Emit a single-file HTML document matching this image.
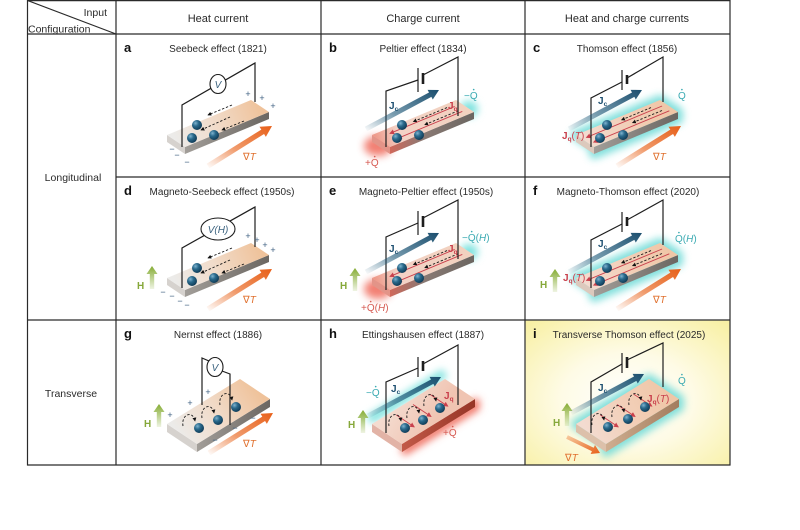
<!DOCTYPE html>
<html><head><meta charset="utf-8">
<style>
html,body{margin:0;padding:0;background:#fff;}
svg{display:block;}
text{font-family:"Liberation Sans",Arial,sans-serif;}
.tt{font-size:10px;fill:#2a2a2a;text-anchor:middle;}
.lt{font-size:13px;font-weight:bold;fill:#111;}
.hd{font-size:11px;fill:#2a2a2a;text-anchor:middle;}
.sg{font-size:9px;fill:#3d5f80;text-anchor:middle;}
.cy{fill:#3aaab2;font-size:10px;}
.rd{fill:#d65a52;font-size:10px;}
.jc{fill:#1d4f70;font-size:10px;font-weight:bold;}
.jq{fill:#c9404c;font-size:10px;font-weight:bold;}
.gt{fill:#e0702e;font-size:10px;}
.hl{fill:#86a83a;font-size:10px;font-weight:bold;}
.w{fill:none;stroke:#1e1e1e;stroke-width:1.2;}
.ds{fill:none;stroke:#1a1a1a;stroke-width:0.9;stroke-dasharray:2.4 1.8;}
.rl{fill:none;stroke:#c9404c;stroke-width:0.9;}
</style></head><body>
<svg width="800" height="530" viewBox="0 0 800 530" xmlns="http://www.w3.org/2000/svg">
<defs>
<linearGradient id="topA" gradientUnits="userSpaceOnUse" x1="60" y1="107" x2="145" y2="72">
<stop offset="0" stop-color="#ecebe9"/><stop offset="0.45" stop-color="#f1dccb"/><stop offset="1" stop-color="#efc29a"/></linearGradient>
<linearGradient id="topG" gradientUnits="userSpaceOnUse" x1="66" y1="118" x2="139" y2="66">
<stop offset="0" stop-color="#ecebe9"/><stop offset="0.45" stop-color="#f1dccb"/><stop offset="1" stop-color="#efc29a"/></linearGradient>
<linearGradient id="topP" gradientUnits="userSpaceOnUse" x1="60" y1="107" x2="145" y2="72">
<stop offset="0" stop-color="#f3dbd0"/><stop offset="0.5" stop-color="#f2cfb8"/><stop offset="1" stop-color="#efc6a6"/></linearGradient>
<linearGradient id="topR" gradientUnits="userSpaceOnUse" x1="55" y1="107" x2="145" y2="72">
<stop offset="0" stop-color="#ee9888"/><stop offset="0.25" stop-color="#f3d2c6"/><stop offset="1" stop-color="#f2d2bf"/></linearGradient>
<linearGradient id="topH" gradientUnits="userSpaceOnUse" x1="60" y1="100" x2="100" y2="125">
<stop offset="0" stop-color="#f4dcd0"/><stop offset="1" stop-color="#f0c4b2"/></linearGradient>
<linearGradient id="frG" x1="0" y1="0" x2="1" y2="0"><stop offset="0" stop-color="#a29e99"/><stop offset="1" stop-color="#6b6661"/></linearGradient>
<linearGradient id="frR" x1="0" y1="0" x2="1" y2="0"><stop offset="0" stop-color="#d0685a"/><stop offset="0.4" stop-color="#8a7a74"/><stop offset="1" stop-color="#6b6661"/></linearGradient>
<linearGradient id="frH" x1="0" y1="0" x2="1" y2="0"><stop offset="0" stop-color="#c25a48"/><stop offset="1" stop-color="#963426"/></linearGradient>
<linearGradient id="frT" x1="0" y1="0" x2="1" y2="0"><stop offset="0" stop-color="#cfae90"/><stop offset="1" stop-color="#a27c5e"/></linearGradient>
<linearGradient id="jcG" x1="0" y1="1" x2="1" y2="0"><stop offset="0" stop-color="#1d5878" stop-opacity="0"/><stop offset="0.4" stop-color="#1d5878" stop-opacity="0.6"/><stop offset="1" stop-color="#1b4e6e"/></linearGradient>
<linearGradient id="gtG" x1="0" y1="1" x2="1" y2="0"><stop offset="0" stop-color="#e8641c" stop-opacity="0"/><stop offset="0.45" stop-color="#e8641c" stop-opacity="0.65"/><stop offset="1" stop-color="#e85f18"/></linearGradient>
<linearGradient id="gtI" x1="0" y1="0" x2="1" y2="1"><stop offset="0" stop-color="#e8641c" stop-opacity="0.3"/><stop offset="1" stop-color="#e85f18"/></linearGradient>
<linearGradient id="hG" x1="0" y1="1" x2="0" y2="0"><stop offset="0" stop-color="#8db33f" stop-opacity="0.15"/><stop offset="1" stop-color="#84ab32"/></linearGradient>
<radialGradient id="bg" cx=".35" cy=".32" r=".75"><stop offset="0" stop-color="#7fb3cf"/><stop offset="0.4" stop-color="#2a6a8c"/><stop offset="1" stop-color="#0c3550"/></radialGradient>
<radialGradient id="yb" cx=".5" cy=".55" r=".72"><stop offset="0" stop-color="#ffffff"/><stop offset="0.45" stop-color="#fefbe6"/><stop offset="1" stop-color="#f8f0a4"/></radialGradient>
<filter id="bl" x="-60%" y="-60%" width="220%" height="220%"><feGaussianBlur stdDeviation="4"/></filter>
<marker id="ak" viewBox="0 0 6 6" refX="5" refY="3" markerWidth="4" markerHeight="4" orient="auto" markerUnits="userSpaceOnUse"><path d="M0,0 L6,3 L0,6 z" fill="#111"/></marker>
<marker id="ar" viewBox="0 0 6 6" refX="5" refY="3" markerWidth="5" markerHeight="5" orient="auto" markerUnits="userSpaceOnUse"><path d="M0,0 L6,3 L0,6 z" fill="#c9404c"/></marker>
<polygon id="LT" points="51,101 69,113 153,78 135,66"/>
<polygon id="LL" points="51,101 69,113 69,120 51,108"/>
<polygon id="LF" points="69,113 153,78 153,85 69,120"/>
<polygon id="TT" points="51,104 81,124 154,79 124,59"/>
<polygon id="TL" points="51,104 81,124 81,132 51,112"/>
<polygon id="TF" points="81,124 154,79 154,87 81,132"/>
<polygon id="jcA" fill="url(#jcG)" points="46.18,97.2 110.36,62.91 111.77,65.56 118,56 106.59,55.86 108,58.51 43.82,92.8"/>
<polygon id="gtA" fill="url(#gtG)" points="93.38,134.2 148.05,100.03 149.85,102.92 156,92 143.49,92.74 145.29,95.63 90.62,129.8"/>
<polygon id="hA" fill="url(#hG)" points="-2.2,22 -2.2,7 -5.5,7 0,-1 5.5,7 2.2,7 2.2,22"/>
<circle id="ball" r="5" fill="url(#bg)"/>
</defs>

<rect width="800" height="530" fill="#fff"/>
<rect x="525.6" y="320.6" width="204" height="144" fill="url(#yb)"/>

<g stroke="#2a2a2a" stroke-width="1.2" fill="none">
<path d="M27,0.6 H730.5"/>
<path d="M27,34 H730.5"/>
<path d="M116,177 H730.5"/>
<path d="M27,320 H730.5"/>
<path d="M27,465 H730.5"/>
<path d="M27.5,0 V465.5 M116,0 V465.5 M321,0 V465.5 M525,0 V465.5 M730,0 V465.5"/>
<path d="M27.5,0.5 L116,34"/>
</g>
<text x="107" y="16" font-size="10.5" fill="#2a2a2a" text-anchor="end">Input</text>
<text x="28" y="32.5" font-size="10.5" fill="#2a2a2a">Configuration</text>
<text class="hd" x="218" y="22">Heat current</text>
<text class="hd" x="423" y="22">Charge current</text>
<text class="hd" x="627" y="22">Heat and charge currents</text>
<text x="73" y="181" font-size="10.5" fill="#2a2a2a" text-anchor="middle">Longitudinal</text>
<text x="71" y="397" font-size="10.5" fill="#2a2a2a" text-anchor="middle">Transverse</text>

<!-- a -->
<g transform="translate(116,34)">
<text class="lt" x="8" y="18">a</text>
<text class="tt" x="102" y="18">Seebeck effect (1821)</text>
<use href="#gtA"/>
<text class="gt" x="127" y="126">∇<tspan font-style="italic">T</tspan></text>
<use href="#LL" fill="#d6d2ce"/><use href="#LF" fill="url(#frG)"/><use href="#LT" fill="url(#topA)"/>
<g class="ds" marker-end="url(#ak)"><path d="M116,71 L92,81"/><path d="M114,83 L85,96"/><path d="M128,87 L106,96"/></g>
<use href="#ball" x="81" y="91"/><use href="#ball" x="76" y="104"/><use href="#ball" x="98" y="101"/>
<polyline class="w" points="66,113 66,71 139,29 139,68"/>
<ellipse cx="102" cy="50" rx="8" ry="9.5" fill="#fff" stroke="#1e1e1e" stroke-width="1.1"/>
<text x="102" y="54" font-size="10" font-style="italic" fill="#3d6480" text-anchor="middle">V</text>
<text class="sg" x="132" y="63">+</text><text class="sg" x="146" y="67">+</text><text class="sg" x="157" y="75">+</text>
<text class="sg" x="56" y="118">−</text><text class="sg" x="61" y="124">−</text><text class="sg" x="71" y="131">−</text>
</g>

<!-- b -->
<g transform="translate(321,34)">
<text class="lt" x="8" y="18">b</text>
<text class="tt" x="102" y="18">Peltier effect (1834)</text>
<ellipse cx="57" cy="112" rx="14" ry="10" fill="#f06a5c" filter="url(#bl)" opacity=".85"/>
<ellipse cx="148" cy="75" rx="9" ry="8" fill="#7fe3df" filter="url(#bl)"/>
<use href="#LL" fill="#e39488"/><use href="#LF" fill="url(#frR)"/><use href="#LT" fill="url(#topR)"/>
<g class="rl" marker-end="url(#ar)"><path d="M133.7,72.4 L69,99.4"/><path d="M141.3,77.4 L76.6,104.4"/></g>
<g class="ds" marker-end="url(#ak)"><path d="M126,73.6 L92.4,87.6"/><path d="M137.4,76.7 L103.8,90.7"/></g>
<use href="#ball" x="81" y="91"/><use href="#ball" x="76" y="104"/><use href="#ball" x="98" y="101"/>
<polyline class="w" points="65,113 65,57 97,46"/>
<line x1="97" y1="34" x2="97" y2="58" stroke="#1e1e1e" stroke-width="1.2"/>
<line x1="102" y1="39" x2="102" y2="50" stroke="#1e1e1e" stroke-width="2.6"/>
<polyline class="w" points="102,41 137,23 137,82"/>
<use href="#jcA"/>
<text class="jc" x="68" y="75">J<tspan font-size="6.5" dy="2">c</tspan></text>
<text class="jq" x="127" y="75">J<tspan font-size="6.5" dy="2">q</tspan></text>
<text class="rd" x="44" y="132">+Q</text><circle cx="53.7" cy="122.6" r=".8" fill="#d65a52"/>
<text class="cy" x="143" y="65">−Q</text><circle cx="152.7" cy="55.6" r=".8" fill="#3aaab2"/>
</g>

<!-- c -->
<g transform="translate(525,34)">
<text class="lt" x="8" y="18">c</text>
<text class="tt" x="102" y="18">Thomson effect (1856)</text>
<polygon points="51,101 69,113 69,120 153,85 153,78 135,66" fill="#72dcd8" stroke="#72dcd8" stroke-width="10" stroke-linejoin="round" filter="url(#bl)" opacity=".9"/>
<use href="#gtA"/>
<text class="gt" x="128" y="126">∇<tspan font-style="italic">T</tspan></text>
<use href="#LL" fill="#dcc9bd"/><use href="#LF" fill="url(#frG)"/><use href="#LT" fill="url(#topP)"/>
<g class="rl" marker-end="url(#ar)"><path d="M137.1,72 L61.5,103.4"/><path d="M144.3,76.8 L68.7,108.2"/></g>
<g class="ds" marker-end="url(#ak)"><path d="M126,73.6 L96.6,85.9"/><path d="M137,76.5 L107.6,88.7"/></g>
<use href="#ball" x="82" y="91"/><use href="#ball" x="75" y="104"/><use href="#ball" x="98" y="101"/>
<polyline class="w" points="66,113 66,64 97,48"/>
<line x1="97" y1="36" x2="97" y2="56" stroke="#1e1e1e" stroke-width="1.2"/>
<line x1="102" y1="41" x2="102" y2="50" stroke="#1e1e1e" stroke-width="2.6"/>
<polyline class="w" points="102,44 138,23 138,68"/>
<use href="#jcA" transform="translate(-1,0)"/>
<text class="jc" x="73" y="70">J<tspan font-size="6.5" dy="2">c</tspan></text>
<text class="cy" x="153" y="65">Q</text><circle cx="156.9" cy="55.6" r=".8" fill="#3aaab2"/>
<text class="jq" x="37" y="105">J<tspan font-size="6.5" dy="2">q</tspan><tspan dy="-2" font-weight="normal">(</tspan><tspan font-weight="normal" font-style="italic">T</tspan><tspan font-weight="normal">)</tspan></text>
</g>

<!-- d -->
<g transform="translate(116,177)">
<text class="lt" x="8" y="18">d</text>
<text class="tt" x="106" y="18">Magneto-Seebeck effect (1950s)</text>
<use href="#gtA"/>
<text class="gt" x="127" y="126">∇<tspan font-style="italic">T</tspan></text>
<use href="#hA" transform="translate(36,90)"/>
<text class="hl" x="21" y="112">H</text>
<use href="#LL" fill="#d6d2ce"/><use href="#LF" fill="url(#frG)"/><use href="#LT" fill="url(#topA)"/>
<g class="ds" marker-end="url(#ak)"><path d="M116,71 L92,81"/><path d="M114,83 L85,96"/><path d="M128,87 L106,96"/></g>
<use href="#ball" x="81" y="91"/><use href="#ball" x="76" y="104"/><use href="#ball" x="98" y="101"/>
<polyline class="w" points="66,111 66,71 139,30 139,70"/>
<ellipse cx="102" cy="52" rx="17" ry="11" fill="#fff" stroke="#1e1e1e" stroke-width="1.1"/>
<text x="102" y="56" font-size="10" font-style="italic" fill="#3d6480" text-anchor="middle">V(H)</text>
<text class="sg" x="132" y="62">+</text><text class="sg" x="141" y="66">+</text><text class="sg" x="149" y="71">+</text><text class="sg" x="157" y="76">+</text>
<text class="sg" x="47" y="118">−</text><text class="sg" x="56" y="122">−</text><text class="sg" x="64" y="127">−</text><text class="sg" x="71" y="131">−</text>
</g>

<!-- e -->
<g transform="translate(321,177)">
<text class="lt" x="8" y="18">e</text>
<text class="tt" x="105" y="18">Magneto-Peltier effect (1950s)</text>
<ellipse cx="57" cy="112" rx="14" ry="10" fill="#f06a5c" filter="url(#bl)" opacity=".85"/>
<ellipse cx="148" cy="75" rx="9" ry="8" fill="#7fe3df" filter="url(#bl)"/>
<use href="#hA" transform="translate(34,92)"/>
<text class="hl" x="19" y="112">H</text>
<use href="#LL" fill="#e39488"/><use href="#LF" fill="url(#frR)"/><use href="#LT" fill="url(#topR)"/>
<g class="rl" marker-end="url(#ar)"><path d="M133.7,72.4 L69,99.4"/><path d="M141.3,77.4 L76.6,104.4"/></g>
<g class="ds" marker-end="url(#ak)"><path d="M126,73.6 L92.4,87.6"/><path d="M137.4,76.7 L103.8,90.7"/></g>
<use href="#ball" x="81" y="91"/><use href="#ball" x="76" y="104"/><use href="#ball" x="98" y="101"/>
<polyline class="w" points="65,113 65,60 97,46"/>
<line x1="97" y1="34" x2="97" y2="58" stroke="#1e1e1e" stroke-width="1.2"/>
<line x1="102" y1="39" x2="102" y2="50" stroke="#1e1e1e" stroke-width="2.6"/>
<polyline class="w" points="102,41 137,23 137,82"/>
<use href="#jcA"/>
<text class="jc" x="68" y="75">J<tspan font-size="6.5" dy="2">c</tspan></text>
<text class="jq" x="127" y="75">J<tspan font-size="6.5" dy="2">q</tspan></text>
<text class="rd" x="40" y="134">+Q(<tspan font-style="italic">H</tspan>)</text><circle cx="49.7" cy="124.6" r=".8" fill="#d65a52"/>
<text class="cy" x="141" y="64">−Q(<tspan font-style="italic">H</tspan>)</text><circle cx="150.7" cy="54.6" r=".8" fill="#3aaab2"/>
</g>

<!-- f -->
<g transform="translate(525,177)">
<text class="lt" x="8" y="18">f</text>
<text class="tt" x="103" y="18">Magneto-Thomson effect (2020)</text>
<polygon points="51,101 69,113 69,120 153,85 153,78 135,66" fill="#72dcd8" stroke="#72dcd8" stroke-width="10" stroke-linejoin="round" filter="url(#bl)" opacity=".9"/>
<use href="#gtA"/>
<text class="gt" x="128" y="126">∇<tspan font-style="italic">T</tspan></text>
<use href="#hA" transform="translate(30,93)"/>
<text class="hl" x="15" y="111">H</text>
<use href="#LL" fill="#dcc9bd"/><use href="#LF" fill="url(#frG)"/><use href="#LT" fill="url(#topP)"/>
<g class="rl" marker-end="url(#ar)"><path d="M137.1,72 L61.5,103.4"/><path d="M144.3,76.8 L68.7,108.2"/></g>
<g class="ds" marker-end="url(#ak)"><path d="M126,73.6 L96.6,85.9"/><path d="M137,76.5 L107.6,88.7"/></g>
<use href="#ball" x="82" y="91"/><use href="#ball" x="75" y="104"/><use href="#ball" x="98" y="101"/>
<polyline class="w" points="66,111 66,63 97,47"/>
<line x1="97" y1="35" x2="97" y2="55" stroke="#1e1e1e" stroke-width="1.2"/>
<line x1="102" y1="40" x2="102" y2="49" stroke="#1e1e1e" stroke-width="2.6"/>
<polyline class="w" points="102,43 138,23 138,68"/>
<use href="#jcA" transform="translate(-1,0)"/>
<text class="jc" x="73" y="70">J<tspan font-size="6.5" dy="2">c</tspan></text>
<text class="cy" x="150" y="65">Q(<tspan font-style="italic">H</tspan>)</text><circle cx="153.9" cy="55.6" r=".8" fill="#3aaab2"/>
<text class="jq" x="38" y="104">J<tspan font-size="6.5" dy="2">q</tspan><tspan dy="-2" font-weight="normal">(</tspan><tspan font-weight="normal" font-style="italic">T</tspan><tspan font-weight="normal">)</tspan></text>
</g>

<!-- g -->
<g transform="translate(116,320)">
<text class="lt" x="8" y="18">g</text>
<text class="tt" x="102" y="18">Nernst effect (1886)</text>
<use href="#gtA" transform="translate(1,1)"/>
<text class="gt" x="127" y="127">∇<tspan font-style="italic">T</tspan></text>
<use href="#hA" transform="translate(43,85)"/>
<text class="hl" x="28" y="107">H</text>
<use href="#TL" fill="#d6d2ce"/><use href="#TF" fill="url(#frG)"/><use href="#TT" fill="url(#topG)"/>
<g class="ds" marker-end="url(#ak)"><path d="M67,106 C65,94 77,90 79,101"/><path d="M86,98 C84,86 96,82 98,93"/><path d="M104,85 C102,73 114,69 116,80"/></g>
<use href="#ball" x="83" y="108"/><use href="#ball" x="102" y="100"/><use href="#ball" x="120" y="87"/>
<polyline class="w" points="86,85 86,38 93,41"/>
<polyline class="w" points="106,51 114,54 114,105"/>
<ellipse cx="99" cy="47" rx="8" ry="9.5" fill="#fff" stroke="#1e1e1e" stroke-width="1.1"/>
<text x="99" y="51" font-size="10" font-style="italic" fill="#3d6480" text-anchor="middle">V</text>
<text class="sg" x="74" y="86">+</text><text class="sg" x="92" y="75">+</text><text class="sg" x="54" y="98">+</text>
<text class="sg" x="137" y="101">−</text><text class="sg" x="119" y="111">−</text><text class="sg" x="99" y="123">−</text>
</g>

<!-- h -->
<g transform="translate(321,320)">
<text class="lt" x="8" y="18">h</text>
<text class="tt" x="102" y="18">Ettingshausen effect (1887)</text>
<path d="M48,100 L124,53" stroke="#7fe3df" stroke-width="9" filter="url(#bl)" fill="none"/>
<polyline points="81,132 154,87 154,79" stroke="#f07060" stroke-width="9" filter="url(#bl)" fill="none"/>
<use href="#hA" transform="translate(42,91)"/>
<text class="hl" x="27" y="108">H</text>
<use href="#TL" fill="#e2b3a6"/><use href="#TF" fill="url(#frH)"/><use href="#TT" fill="url(#topH)"/>
<g class="rl" marker-end="url(#ar)"><path d="M75.2,94.9 L93.2,106.9"/><path d="M92,84.5 L110,96.5"/><path d="M108.8,74.2 L126.8,86.2"/></g>
<g class="ds" marker-end="url(#ak)"><path d="M68,106 C66,94 78,90 80,101"/><path d="M86,98 C84,86 96,82 98,93"/><path d="M103,86 C101,74 113,70 115,81"/></g>
<use href="#ball" x="84" y="108"/><use href="#ball" x="102" y="100"/><use href="#ball" x="119" y="88"/>
<polyline class="w" points="65,113 65,62 97,48"/>
<line x1="97" y1="37" x2="97" y2="57" stroke="#1e1e1e" stroke-width="1.2"/>
<line x1="102" y1="41" x2="102" y2="51" stroke="#1e1e1e" stroke-width="2.6"/>
<polyline class="w" points="102,44 137,25 137,85"/>
<use href="#jcA" transform="translate(2,1)"/>
<text class="jc" x="70" y="72">J<tspan font-size="6.5" dy="2">c</tspan></text>
<text class="jq" x="123" y="79">J<tspan font-size="6.5" dy="2">q</tspan></text>
<text class="cy" x="45" y="76">−Q</text><circle cx="54.7" cy="66.6" r=".8" fill="#3aaab2"/>
<text class="rd" x="122" y="116">+Q</text><circle cx="131.7" cy="106.6" r=".8" fill="#d65a52"/>
</g>

<!-- i -->
<g transform="translate(525,320)">
<text class="lt" x="8" y="18">i</text>
<text class="tt" x="104" y="18">Transverse Thomson effect (2025)</text>
<polygon points="51,104 81,124 81,132 154,87 154,79 124,59" fill="#72dcd8" stroke="#72dcd8" stroke-width="10" stroke-linejoin="round" filter="url(#bl)" opacity=".9"/>
<polygon fill="url(#gtI)" points="41.13,118.8 66.94,131.31 65.63,134.01 75,133 69.99,125.01 68.68,127.71 42.87,115.2"/>
<text class="gt" x="40" y="141">∇<tspan font-style="italic">T</tspan></text>
<use href="#hA" transform="translate(42,84)"/>
<text class="hl" x="28" y="106">H</text>
<use href="#TL" fill="#dcc0aa"/><use href="#TF" fill="url(#frT)"/><use href="#TT" fill="url(#topP)"/>
<g class="rl" marker-end="url(#ar)"><path d="M75.2,94.9 L93.2,106.9"/><path d="M92,84.5 L110,96.5"/><path d="M108.8,74.2 L126.8,86.2"/></g>
<g class="ds" marker-end="url(#ak)"><path d="M67,105 C65,93 77,89 79,100"/><path d="M87,97 C85,85 97,81 99,92"/><path d="M104,85 C102,73 114,69 116,80"/></g>
<use href="#ball" x="83" y="107"/><use href="#ball" x="103" y="99"/><use href="#ball" x="120" y="87"/>
<polyline class="w" points="66,113 66,62 97,44"/>
<line x1="97" y1="33" x2="97" y2="53" stroke="#1e1e1e" stroke-width="1.2"/>
<line x1="102" y1="37" x2="102" y2="48" stroke="#1e1e1e" stroke-width="2.6"/>
<polyline class="w" points="102,40 138,23 138,67"/>
<use href="#jcA" transform="translate(1,-2)"/>
<text class="jc" x="73" y="71">J<tspan font-size="6.5" dy="2">c</tspan></text>
<text class="cy" x="153" y="64">Q</text><circle cx="156.9" cy="54.6" r=".8" fill="#3aaab2"/>
<text class="jq" x="122" y="82">J<tspan font-size="6.5" dy="2">q</tspan><tspan dy="-2" font-weight="normal">(</tspan><tspan font-weight="normal" font-style="italic">T</tspan><tspan font-weight="normal">)</tspan></text>
</g>
</svg>
</body></html>
